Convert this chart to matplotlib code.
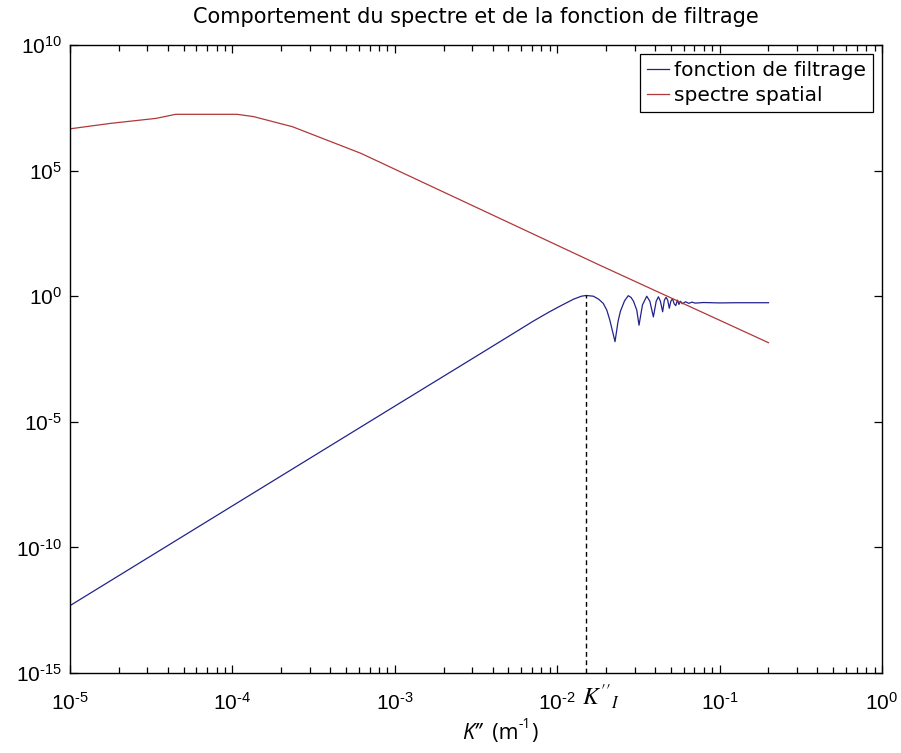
import matplotlib
matplotlib.use("Agg")
import matplotlib.pyplot as plt
from matplotlib.ticker import LogLocator, FuncFormatter, NullFormatter, NullLocator
import numpy as np

plt.rcParams["font.family"] = ["Liberation Sans", "DejaVu Sans"]
plt.rcParams["mathtext.fontset"] = "custom"
plt.rcParams["mathtext.rm"] = "Liberation Sans"
plt.rcParams["mathtext.it"] = "Liberation Sans:italic"

# Spectre spatial
k_spectre = [1.0e-5, 1.78e-5, 3.39e-5, 4.47e-5, 1.07e-4, 1.35e-4, 2.34e-4,
             6.17e-4, 1.82e-2, 2.0e-1]
spectre = [4.6e6, 7.6e6, 1.2e7, 1.74e7, 1.74e7, 1.41e7, 5.6e6,
           4.9e5, 17.4, 0.0141]

# Fonction de filtrage
k_filtre = [1.0e-5, 1.0e-4, 1.0e-3, 3.16e-3, 5.01e-3, 7.13e-3, 8.91e-3,
            1.04e-2, 1.15e-2, 1.26e-2, 1.41e-2, 1.51e-2, 1.67e-2, 1.80e-2,
            1.92e-2, 2.02e-2, 2.11e-2, 2.27e-2, 2.37e-2, 2.45e-2, 2.60e-2,
            2.74e-2, 2.85e-2, 2.95e-2, 3.09e-2, 3.19e-2, 3.35e-2, 3.56e-2,
            3.72e-2, 3.91e-2, 4.07e-2, 4.20e-2, 4.32e-2, 4.46e-2, 4.57e-2,
            4.68e-2, 4.79e-2, 4.90e-2, 5.01e-2, 5.13e-2, 5.25e-2, 5.37e-2,
            5.50e-2, 5.62e-2, 5.75e-2, 5.89e-2, 6.17e-2, 6.46e-2, 6.76e-2,
            7.08e-2, 7.94e-2, 1.0e-1, 1.26e-1, 1.58e-1, 2.0e-1]
filtre = [4.8e-13, 4.5e-9, 4.2e-5, 4.0e-3, 0.025, 0.102, 0.234,
          0.40, 0.56, 0.76, 1.0, 1.07, 1.0, 0.76,
          0.52, 0.28, 0.11, 0.0155, 0.10, 0.25, 0.66,
          1.05, 0.89, 0.63, 0.28, 0.07, 0.45, 1.0,
          0.63, 0.15, 0.63, 0.95, 0.63, 0.24, 0.70,
          0.90, 0.70, 0.33, 0.63, 0.80, 0.50, 0.42,
          0.70, 0.47, 0.63, 0.50, 0.60, 0.52, 0.58,
          0.53, 0.56, 0.54, 0.55, 0.55, 0.55]

# Nombre d'onde K''_I au premier maximum de la fonction de filtrage
k_coupure = 1.51e-2
filtre_coupure = 1.07

x_lim = (1e-5, 1e0)
y_lim = (1e-15, 1e10)
x_ticks = [1e-5, 1e-4, 1e-3, 1e-2, 1e-1, 1e0]
y_ticks = [1e-15, 1e-10, 1e-5, 1e0, 1e5, 1e10]

fig = plt.figure(figsize=(9.01, 7.53), dpi=100)
ax = fig.add_axes([70 / 901, 1 - 673 / 753, 812 / 901, 628 / 753])

ax.loglog(k_filtre, filtre, color="#22228c", lw=0.9, label="fonction de filtrage")
ax.loglog(k_spectre, spectre, color="#b03838", lw=0.9, label="spectre spatial")
ax.plot([k_coupure, k_coupure], [y_lim[0], filtre_coupure], color="black",
        lw=1.0, ls=(0, (3.5, 2.5)))

ax.set_xlim(*x_lim)
ax.set_ylim(*y_lim)


def puissance(v, pos):
    e = int(round(np.log10(v)))
    if e < 0:
        return r"$\mathregular{10^{\text{-}%d}}$" % (-e)
    return r"$\mathregular{10^{%d}}$" % e


ax.set_xticks(x_ticks)
ax.set_yticks(y_ticks)
ax.xaxis.set_major_formatter(FuncFormatter(puissance))
ax.yaxis.set_major_formatter(FuncFormatter(puissance))
ax.xaxis.set_minor_locator(LogLocator(base=10, subs=np.arange(2, 10), numticks=20))
ax.xaxis.set_minor_formatter(NullFormatter())
ax.yaxis.set_minor_locator(NullLocator())
ax.tick_params(which="both", direction="in", top=True, right=True,
               labelsize=15, width=0.9, colors="black")
ax.tick_params(which="major", length=6)
ax.tick_params(which="minor", length=4.5)
ax.tick_params(axis="x", pad=13.5)
ax.tick_params(axis="y", pad=6)
for s in ax.spines.values():
    s.set_linewidth(1.0)

ax.set_title("Comportement du spectre et de la fonction de filtrage",
             fontsize=15, family="DejaVu Sans", pad=15.5)

leg = ax.legend(loc="upper right", prop={"family": "DejaVu Sans", "size": 14.5},
                frameon=True, fancybox=False, edgecolor="black", framealpha=1,
                borderpad=0.35, handlelength=1.1, handletextpad=0.25,
                labelspacing=0.3, borderaxespad=0.45)
leg.get_frame().set_linewidth(0.9)

# K''_I sous la ligne pointillée
fig.text(582 / 901, 1 - 697 / 753, r"$K''_I$", fontsize=17, math_fontfamily="stix",
         va="center", ha="left")

# Titre de l'axe des abscisses : K'' (m^-1)
t1 = fig.text(462 / 901, 1 - 739 / 753, "K\u2019\u2019", fontsize=15.5,
              family="Open Sans", style="italic", va="baseline", ha="left")
t2 = ax.annotate("  (m", xy=(1, 0), xycoords=t1, va="bottom", ha="left",
                 fontsize=15.5, family="Open Sans", annotation_clip=False)
t3 = ax.annotate("-1", xy=(1, 0.55), xycoords=t2, va="bottom", ha="left",
                 fontsize=10, family="Open Sans", annotation_clip=False)
ax.annotate(")", xy=(1, 0), xycoords=(t3, t2), va="bottom", ha="left",
            fontsize=15.5, family="Open Sans", annotation_clip=False)

fig.savefig("out.png", dpi=100)
